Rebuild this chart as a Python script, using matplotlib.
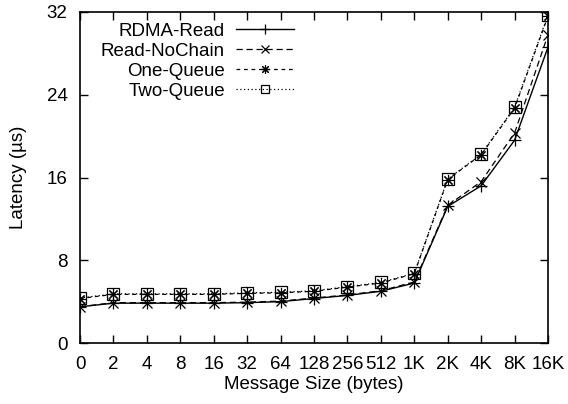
import numpy as np
import matplotlib
matplotlib.use("Agg")
import matplotlib.pyplot as plt

plt.rcParams['font.family'] = ['Liberation Sans', 'DejaVu Sans']

sizes = ['0', '2', '4', '8', '16', '32', '64', '128', '256', '512', '1K', '2K', '4K', '8K', '16K']
rdma_read = [3.5, 3.85, 3.85, 3.85, 3.85, 3.9, 4.0, 4.3, 4.6, 5.0, 5.8, 13.2, 15.2, 19.6, 28.6]
read_nochain = [3.5, 3.9, 3.9, 3.9, 3.9, 3.95, 4.05, 4.35, 4.65, 5.05, 5.9, 13.3, 15.6, 20.3, 29.8]
one_queue = [4.3, 4.7, 4.7, 4.7, 4.7, 4.8, 4.85, 5.0, 5.4, 5.8, 6.7, 15.8, 18.2, 22.7, 31.6]
two_queue = [4.35, 4.75, 4.75, 4.75, 4.75, 4.85, 4.9, 5.05, 5.45, 5.85, 6.75, 15.85, 18.25, 22.8, 31.7]

fs = 13.5
fig = plt.figure(figsize=(5.68, 4.04), dpi=100)
ax = fig.add_axes([80/568, 1 - 343/404, 468/568, 331/404])
x = np.arange(len(sizes))

ax.plot(x, rdma_read, 'k-', marker='+', ms=9, mew=0.9, lw=1.0, label='RDMA-Read')
ax.plot(x, read_nochain, 'k', ls=(0, (5, 3)), marker='x', ms=7, mew=0.9, lw=0.9, label='Read-NoChain')
ax.plot(x, one_queue, 'k', ls=(0, (3, 3)), marker=(8, 2, 0), ms=8, mew=0.8, lw=0.9, label='One-Queue')
ax.plot(x, two_queue, 'k', ls=(0, (1, 2)), marker='s', ms=8, mew=0.9, mfc='none', lw=0.9, label='Two-Queue')

ax.set_xlim(0, len(sizes) - 1)
ax.set_ylim(0, 32)
ax.set_xticks(x)
ax.set_xticklabels(sizes)
ax.set_yticks([0, 8, 16, 24, 32])
ax.tick_params(direction='in', length=6, width=1, top=True, right=True, labelsize=fs)
ax.tick_params(axis='x', pad=9.5)
ax.tick_params(axis='y', pad=9)
for s in ax.spines.values():
    s.set_linewidth(1.2)
ax.set_xlabel('Message Size (bytes)', fontsize=fs, labelpad=2)
ax.set_ylabel('Latency (\u00b5s)', fontsize=fs, labelpad=14)

leg = ax.legend(loc='upper right', bbox_to_anchor=(0.458, 0.967), frameon=False, fontsize=fs,
                markerfirst=False, handlelength=3.1, labelspacing=0.15, borderaxespad=0,
                borderpad=0, handletextpad=0.6, numpoints=1, markerscale=0.8)
for t in leg.get_texts():
    t.set_ha('right')
leg._legend_box.align = 'right'

fig.savefig('out.png', dpi=100)
